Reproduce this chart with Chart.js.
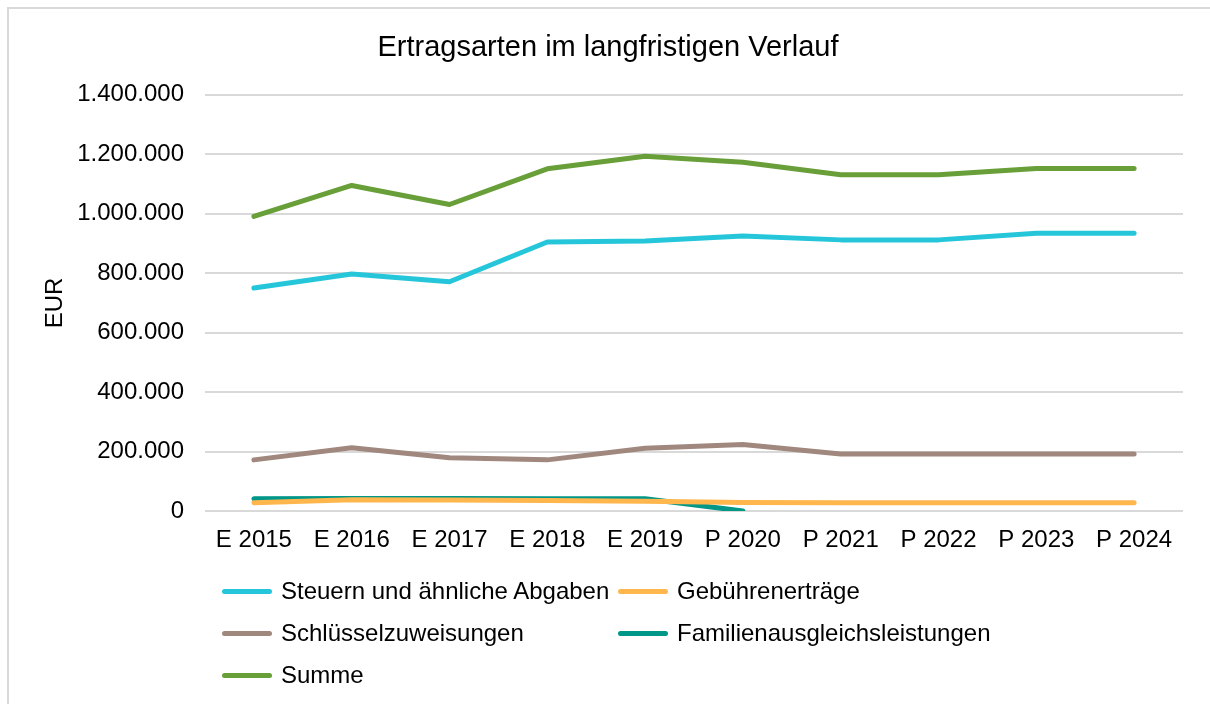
<!DOCTYPE html>
<html>
<head>
<meta charset="utf-8">
<script src="https://cdn.jsdelivr.net/npm/chart.js@4"></script>
<style>
    html, body { margin: 0; padding: 0; background: #fff; }
    #wrap { position: relative; width: 1210px; height: 704px; overflow: hidden; }
    #frame { position: absolute; left: 7px; top: 7px; width: 1220px; height: 720px; border: 2px solid #d9d9d9; box-sizing: border-box; }
    #chart { position: absolute; left: 0; top: 0; }
    #legend { position: absolute; left: 222px; top: 574px; display: grid; grid-template-columns: 396px 400px; row-gap: 8px; font-family: "Liberation Sans", Arial, sans-serif; font-size: 24px; color: #000; }
    .item { display: flex; align-items: center; height: 34px; white-space: nowrap; }
    .swatch { width: 50px; height: 5px; border-radius: 3px; margin-right: 9px; }
</style>
</head>
<body>
<div id="wrap">
    <div id="frame"></div>
    <canvas id="chart" width="1210" height="704"></canvas>
    <div id="legend"></div>
</div>
<script>
const categories = ['E 2015', 'E 2016', 'E 2017', 'E 2018', 'E 2019', 'P 2020', 'P 2021', 'P 2022', 'P 2023', 'P 2024'];
const steuern = [750000, 797000, 771000, 905000, 908000, 925000, 912000, 912000, 934000, 934000];
const gebuehren = [28000, 38000, 37000, 35000, 33000, 29000, 28000, 28000, 28000, 28000];
const schluessel = [172000, 213000, 179000, 172000, 211000, 224000, 192000, 192000, 192000, 192000];
const familien = [41000, 42000, 42000, 41000, 41000, 0, null, null, null, null];
const summe = [991000, 1095000, 1031000, 1151000, 1193000, 1173000, 1131000, 1131000, 1152000, 1152000];
const yTicks = [0, 200000, 400000, 600000, 800000, 1000000, 1200000, 1400000];

const FONT = '"Liberation Sans", Arial, sans-serif';
Chart.defaults.font.family = FONT;
Chart.defaults.color = '#000';

function fmt(v) {
    return String(v).replace(/\B(?=(\d{3})+(?!\d))/g, '.');
}

function series(label, data, color) {
    return { label: label, data: data, borderColor: color, backgroundColor: color, borderWidth: 5, pointRadius: 0, borderCapStyle: 'round', borderJoinStyle: 'round', tension: 0, spanGaps: false };
}

const chart = new Chart(document.getElementById('chart'), {
    type: 'line',
    data: {
        labels: categories,
        datasets: [
            series('Steuern und ähnliche Abgaben', steuern, '#26c6da'),
            series('Gebührenerträge', gebuehren, '#ffb74d'),
            series('Schlüsselzuweisungen', schluessel, '#a1887f'),
            series('Familienausgleichsleistungen', familien, '#009688'),
            series('Summe', summe, '#689f38')
        ]
    },
    options: {
        responsive: false,
        animation: false,
        layout: { padding: { left: 33, right: 27, top: 0, bottom: 133 } },
        plugins: {
            legend: { display: false },
            tooltip: { enabled: false },
            title: { display: true, text: 'Ertragsarten im langfristigen Verlauf', font: { size: 29, weight: 'normal' }, color: '#000', padding: { top: 31, bottom: 29 } }
        },
        scales: {
            x: {
                offset: true,
                grid: { display: false, drawTicks: false },
                border: { display: false },
                ticks: { font: { size: 24 }, color: '#000', padding: 15, maxRotation: 0 },
                afterFit: function(s) { s.height = 60; }
            },
            y: {
                min: 0, max: 1400000,
                afterBuildTicks: function(s) { s.ticks = yTicks.map(v => ({ value: v })); },
                grid: { color: '#d9d9d9', lineWidth: 2, drawTicks: false },
                border: { display: false },
                ticks: { font: { size: 24 }, color: '#000', padding: 21, callback: v => fmt(v) },
                title: { display: true, text: 'EUR', font: { size: 24 }, color: '#000', padding: { top: 8, bottom: 0 } },
                afterFit: function(s) { s.width = 172; }
            }
        }
    }
});

const legend = document.getElementById('legend');
chart.data.datasets.forEach(function(ds) {
    const item = document.createElement('div');
    item.className = 'item';
    item.innerHTML = '<span class="swatch" style="background:' + ds.borderColor + '"></span><span>' + ds.label + '</span>';
    legend.appendChild(item);
});
</script>
</body>
</html>
